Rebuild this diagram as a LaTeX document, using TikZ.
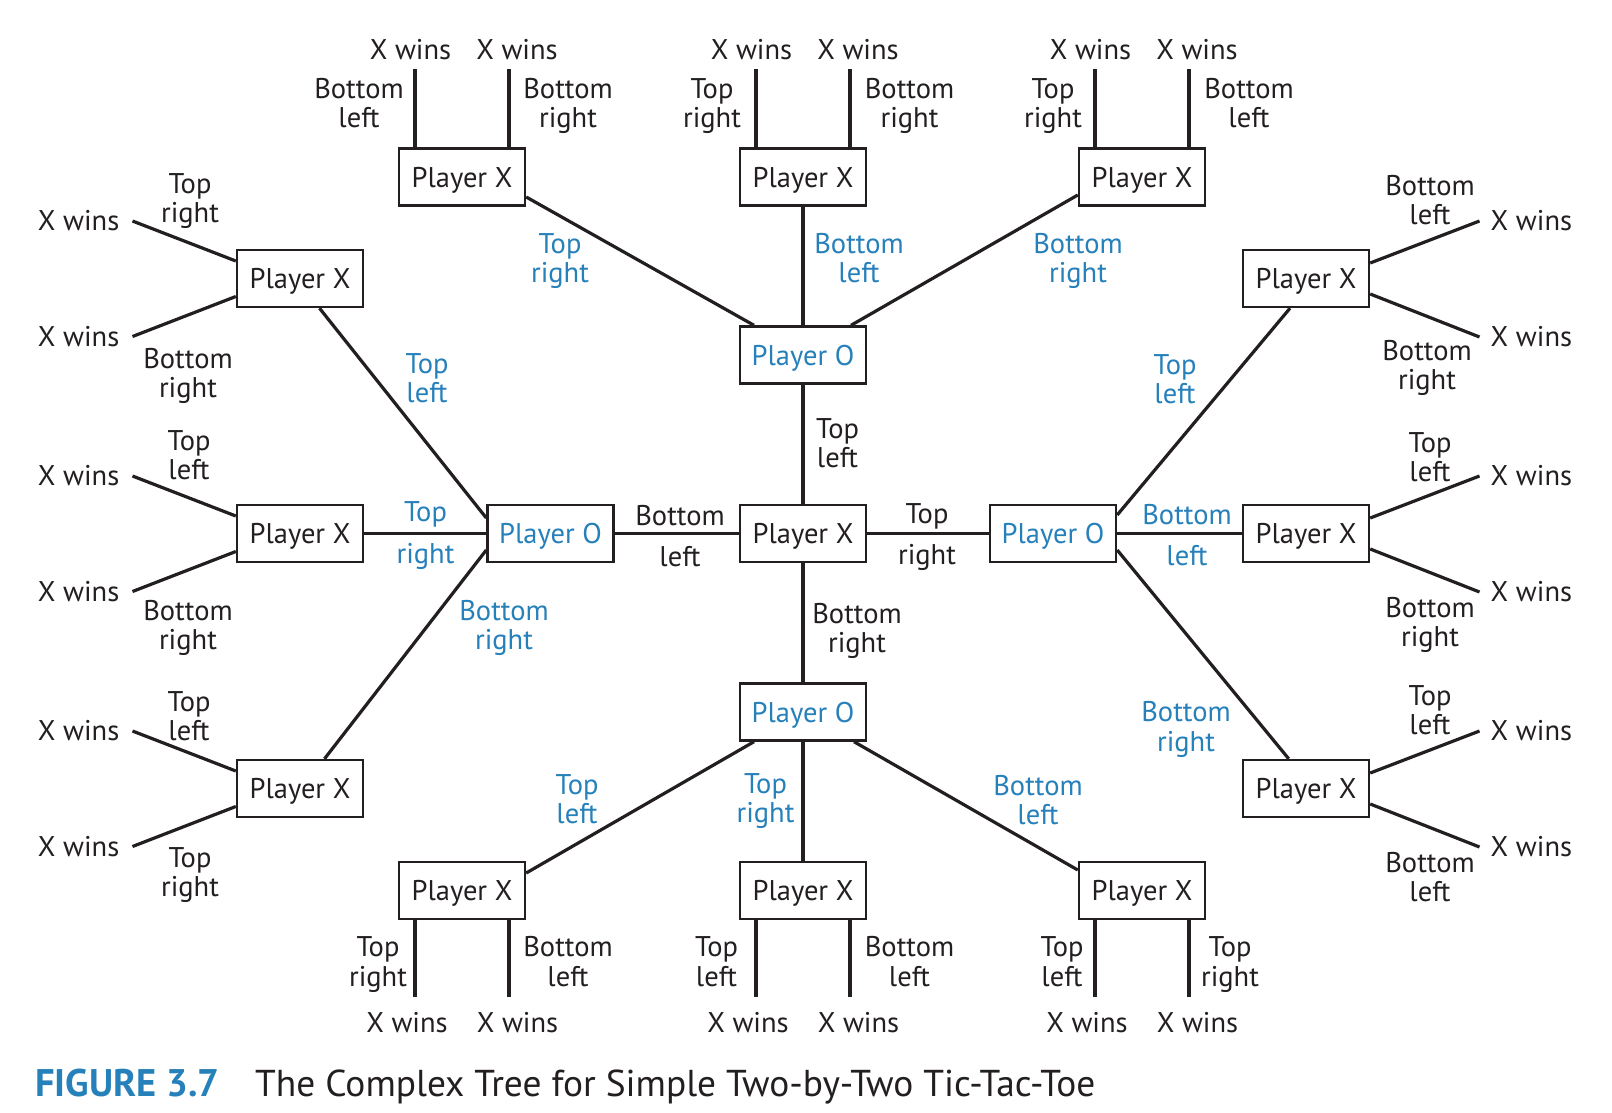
\documentclass[tikz,border=0pt]{standalone}
\usepackage{fontspec}
\setmainfont{PT Sans}
\usetikzlibrary{calc}
\definecolor{ink}{RGB}{35,31,32}
\definecolor{oblue}{RGB}{38,128,186}
\newcommand{\lblfont}{\fontsize{28.5}{29.5}\selectfont}
\newcommand{\capfont}{\fontsize{37.4}{40}\selectfont}
\newcommand{\figfont}{\fontsize{38.5}{40}\selectfont\bfseries}
\tikzset{
  player/.style={draw=ink, line width=2.4pt, minimum width=126pt, minimum height=57pt,
    inner sep=0pt, text height=20pt, text depth=0pt, font=\lblfont, text=ink, fill=white},
  oplayer/.style={player, text=oblue},
  edge/.style={draw=ink, line width=3.2pt},
  lbl/.style={inner sep=0pt, align=center, anchor=north, font=\lblfont, text=ink},
  blbl/.style={lbl, text=oblue},
  win/.style={inner sep=0pt, font=\lblfont, text=ink},
}
\begin{document}
\begin{tikzpicture}[x=1pt, y=-1pt]
\useasboundingbox (0,0) rectangle (1612,1112);

% ---- decision boxes ----
\node[player]  (cX)  at (803,533.5) {Player X};
\node[oplayer] (tO)  at (803,355)   {Player O};
\node[oplayer] (bO)  at (803,712)   {Player O};
\node[oplayer] (lO)  at (550.5,533.5) {Player O};
\node[oplayer] (rO)  at (1053,533.5) {Player O};

\node[player] (tXl) at (462,177)  {Player X};
\node[player] (tXm) at (803,177)  {Player X};
\node[player] (tXr) at (1142,177) {Player X};
\node[player] (bXl) at (462,890.5)  {Player X};
\node[player] (bXm) at (803,890.5)  {Player X};
\node[player] (bXr) at (1142,890.5) {Player X};
\node[player] (lXt) at (300,278.5) {Player X};
\node[player] (lXm) at (300,533.5) {Player X};
\node[player] (lXb) at (300,788.5) {Player X};
\node[player] (rXt) at (1306,278.5) {Player X};
\node[player] (rXm) at (1306,533.5) {Player X};
\node[player] (rXb) at (1306,788.5) {Player X};

% ---- first and second moves ----
\draw[edge] (cX) -- (tO);
\draw[edge] (cX) -- (bO);
\draw[edge] (cX) -- (lO);
\draw[edge] (cX) -- (rO);
\draw[edge] (tO) -- (tXm);
\draw[edge] (bO) -- (bXm);
\draw[edge] (lO) -- (lXm);
\draw[edge] (rO) -- (rXm);
\draw[edge] ($(tXl.east)+(0,20)$) -- ($(tO.north)+(-49,0)$);
\draw[edge] ($(tXr.west)+(0,18)$) -- ($(tO.north)+(48,0)$);
\draw[edge] ($(bXl.east)+(0,-17.5)$) -- ($(bO.south)+(-49,0)$);
\draw[edge] ($(bXr.west)+(0,-20.5)$) -- ($(bO.south)+(51,0)$);
\draw[edge] ($(lXt.south)+(19.5,0)$) -- ($(lO.west)+(0,-15.5)$);
\draw[edge] ($(lXb.north)+(24.5,0)$) -- ($(lO.west)+(0,16.5)$);
\draw[edge] ($(rXt.south)+(-16,0)$) -- ($(rO.east)+(0,-18.5)$);
\draw[edge] ($(rXb.north)+(-17.3,0)$) -- ($(rO.east)+(0,16.5)$);

% ---- winning moves: top row ----
\foreach \n in {tXl,tXm,tXr}{
  \coordinate (\n-a) at ($(\n.north)+(-47,-78)$);
  \coordinate (\n-b) at ($(\n.north)+(47,-78)$);
  \draw[edge] ($(\n.north)+(-47,0)$) -- (\n-a);
  \draw[edge] ($(\n.north)+(47,0)$) -- (\n-b);
  \node[win] at ($(\n.north)+(-51.5,-97.5)$) {X wins};
  \node[win] at ($(\n.north)+(55,-97.5)$) {X wins};
}
% ---- winning moves: bottom row ----
\foreach \n in {bXl,bXm,bXr}{
  \coordinate (\n-a) at ($(\n.south)+(-47,77)$);
  \coordinate (\n-b) at ($(\n.south)+(47,77)$);
  \draw[edge] ($(\n.south)+(-47,0)$) -- (\n-a);
  \draw[edge] ($(\n.south)+(47,0)$) -- (\n-b);
  \node[win] at ($(\n.south)+(-55,102)$) {X wins};
  \node[win] at ($(\n.south)+(55.5,102)$) {X wins};
}
% ---- winning moves: left column ----
\foreach \n in {lXt,lXm,lXb}{
  \coordinate (\n-a) at ($(\n)+(-167.5,-57.5)$);
  \coordinate (\n-b) at ($(\n)+(-167.5,58)$);
  \draw[edge] ($(\n.west)+(0,-17.5)$) -- (\n-a);
  \draw[edge] ($(\n.west)+(0,18)$) -- (\n-b);
  \node[win, anchor=east] at ($(\n-a)+(-13,0)$) {X wins};
  \node[win, anchor=east] at ($(\n-b)+(-13,0)$) {X wins};
}
% ---- winning moves: right column ----
\foreach \n in {rXt,rXm,rXb}{
  \coordinate (\n-a) at ($(\n)+(173.5,-57.5)$);
  \coordinate (\n-b) at ($(\n)+(173.5,58.5)$);
  \draw[edge] ($(\n.east)+(0,-15.5)$) -- (\n-a);
  \draw[edge] ($(\n.east)+(0,15.5)$) -- (\n-b);
  \node[win, anchor=west] at ($(\n-a)+(11,0)$) {X wins};
  \node[win, anchor=west] at ($(\n-b)+(11,0)$) {X wins};
}

% ---- square names on the winning moves ----
\node[lbl] at (359,78)  {Bottom\\left};
\node[lbl] at (568,78)  {Bottom\\right};
\node[lbl] at (712,78)  {Top\\right};
\node[lbl] at (909.5,78) {Bottom\\right};
\node[lbl] at (1053,78) {Top\\right};
\node[lbl] at (1249,78) {Bottom\\left};

\node[lbl] at (378,936.5)  {Top\\right};
\node[lbl] at (568,936.5)  {Bottom\\left};
\node[lbl] at (716.5,936.5) {Top\\left};
\node[lbl] at (909.5,936.5) {Bottom\\left};
\node[lbl] at (1062,936.5) {Top\\left};
\node[lbl] at (1230,936.5) {Top\\right};

\node[lbl] at (190,173) {Top\\right};
\node[lbl] at (188,348) {Bottom\\right};
\node[lbl] at (189,430) {Top\\left};
\node[lbl] at (188,600) {Bottom\\right};
\node[lbl] at (189,691) {Top\\left};
\node[lbl] at (190,847) {Top\\right};

\node[lbl] at (1430,175) {Bottom\\left};
\node[lbl] at (1427,340) {Bottom\\right};
\node[lbl] at (1430,432) {Top\\left};
\node[lbl] at (1430,597) {Bottom\\right};
\node[lbl] at (1430,685) {Top\\left};
\node[lbl] at (1430,852) {Bottom\\left};

% ---- square names on the inner moves ----
\node[blbl] at (560,233)  {Top\\right};
\node[blbl] at (859,233)  {Bottom\\left};
\node[blbl] at (1078,233) {Bottom\\right};
\node[blbl] at (427,353)  {Top\\left};
\node[blbl] at (425.5,501.5) {Top\\[12pt]right};
\node[blbl] at (504,600)  {Bottom\\right};
\node[lbl]  at (680,505)  {Bottom\\[12pt]left};
\node[lbl]  at (837.5,418) {Top\\left};
\node[lbl]  at (857,603)  {Bottom\\right};
\node[lbl]  at (927,503)  {Top\\[12pt]right};
\node[blbl] at (1187,504) {Bottom\\[12pt]left};
\node[blbl] at (1175,354) {Top\\left};
\node[blbl] at (1186,701.5) {Bottom\\right};
\node[blbl] at (577,774)  {Top\\left};
\node[blbl] at (765.5,773) {Top\\right};
\node[blbl] at (1038,775) {Bottom\\left};

% ---- caption ----
\node[inner sep=0pt, anchor=base west, font=\figfont, text=oblue] (fig) at (35,1096.7) {FIGURE 3.7};
\node[inner sep=0pt, anchor=base west, font=\capfont, text=ink] (cap) at (255,1096.7)
  {The Complex Tree for Simple Two-by-Two Tic-Tac-Toe};
\end{tikzpicture}
\end{document}
